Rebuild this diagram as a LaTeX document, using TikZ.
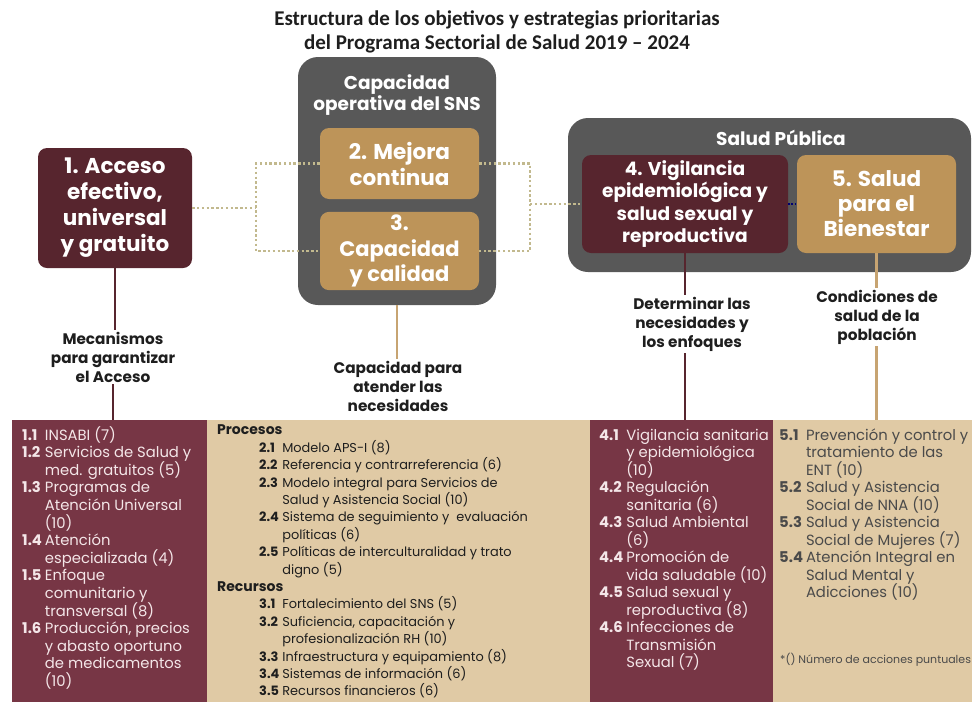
\documentclass[tikz,border=0pt]{standalone}
\usepackage{fontspec}
\usepackage{array}
\setmainfont{Poppins}
\newfontfamily\titlefont{Carlito}
\definecolor{SaludWine}{HTML}{57252E}
\definecolor{SaludRose}{HTML}{773645}
\definecolor{SaludGold}{HTML}{BD9459}
\definecolor{SaludSand}{HTML}{E0CAA5}
\definecolor{SaludGray}{HTML}{585858}
\definecolor{SaludDots}{HTML}{C2B98E}
\definecolor{SaludInk}{HTML}{1E1E1E}
\definecolor{SaludText}{HTML}{4A4A4A}
\definecolor{SaludPale}{HTML}{F4E6E8}
\usetikzlibrary{positioning}

% cells that never stretch their row
\newcolumntype{T}{>{\setbox0=\hbox\bgroup}l<{\egroup\ht0=0pt\dp0=0pt\box0}}

\tikzset{
  group/.style={fill=SaludGray, rounded corners=20pt, inner sep=0pt},
  grouptitle/.style={text=white, font=\bfseries\fontsize{18.5}{21.5}\selectfont, align=center},
  objbox/.style={rounded corners=9pt, text=white, align=center, inner sep=3pt},
  topic/.style={text=SaludInk, font=\bfseries\fontsize{15.3}{19}\selectfont, align=center, inner sep=2pt},
  panel/.style={anchor=north west, inner sep=0pt},
  listing/.style={anchor=north west, inner sep=0pt, align=left},
  dots/.style={draw=SaludDots, line width=2.4pt, dash pattern=on 2.4pt off 2.4pt},
  wine wire/.style={draw=SaludWine, line width=2.6pt},
  gold wire/.style={draw=SaludGold!85!white, line width=2.6pt}
}
\newcommand{\objnum}[1]{\textbf{#1}}

\begin{document}
\begin{tikzpicture}[x=1pt,y=-1pt]
  \useasboundingbox (0,0) rectangle (972,702);

  % title
  \node[font=\titlefont\bfseries\fontsize{21}{24}\selectfont, align=center, text=SaludInk]
    (title) at (497,32) {Estructura de los objetivos y estrategias prioritarias\\
    del Programa Sectorial de Salud 2019 – 2024};

  % grey groups
  \node[group, minimum width=198, minimum height=248] (sns) at (397,181) {};
  \node[grouptitle] (snstitle) at (397,95) {Capacidad\\operativa del SNS};
  \node[group, minimum width=403, minimum height=154] (salud) at (769.5,195) {};
  \node[grouptitle] (saludtitle) at (781,138) {Salud Pública};

  % objectives
  \node[objbox, fill=SaludWine, minimum width=154, minimum height=120,
    font=\bfseries\fontsize{21.5}{26}\selectfont] (acceso) at (115,208)
    {1. Acceso\\efectivo,\\universal\\y gratuito};
  \node[objbox, fill=SaludGold, minimum width=159, minimum height=71,
    font=\bfseries\fontsize{21.5}{26}\selectfont] (mejora) at (399.5,163.5)
    {2. Mejora\\continua};
  \node[objbox, fill=SaludGold, minimum width=159, minimum height=78,
    font=\bfseries\fontsize{21}{25.5}\selectfont] (calidad) at (399.5,251)
    {3.\\Capacidad\\y calidad};
  \node[objbox, fill=SaludWine, minimum width=206, minimum height=98,
    font=\bfseries\fontsize{18.6}{22.5}\selectfont] (vigilancia) at (685,204)
    {4. Vigilancia\\epidemiológica y\\salud sexual y\\reproductiva};
  \node[objbox, fill=SaludGold, minimum width=159, minimum height=98,
    font=\bfseries\fontsize{21.5}{25}\selectfont] (bienestar) at (876.5,204)
    {5. Salud\\para el\\Bienestar};

  % dotted links
  \coordinate (jl) at (256,208);
  \coordinate (jr) at (530,204);
  \draw[dots] (acceso.east) -- (jl);
  \draw[dots] (mejora.west) -| (jl) |- (calidad.west);
  \draw[dots] (mejora.east) -| (jr) |- (calidad.east);
  \draw[dots] (jr) -- (vigilancia.west);
  \draw[draw=blue!45!black, line width=1.6pt, dash pattern=on 1.6pt off 1.6pt]
    (vigilancia.east) -- (bienestar.west);

  % topics
  \node[topic] (mecanismos) at (113,357) {Mecanismos\\para garantizar\\el Acceso};
  \node[topic] (atender) at (398,386) {Capacidad para\\atender las\\necesidades};
  \node[topic] (enfoques) at (692,324) {Determinar las\\necesidades y\\los enfoques};
  \node[topic] (condiciones) at (877,317) {Condiciones de\\salud de la\\población};

  % panels
  \node[panel, fill=SaludRose, minimum width=195, minimum height=282] (accpanel) at (12,420) {};
  \node[panel, fill=SaludSand, minimum width=383, minimum height=282] (snspanel) at (207,420) {};
  \node[panel, fill=SaludRose, minimum width=183, minimum height=282] (vigpanel) at (590,420) {};
  \node[panel, fill=SaludSand, minimum width=199, minimum height=282] (bienpanel) at (773,420) {};

  % vertical links
  \draw[wine wire] (acceso.south) -- (acceso.south |- mecanismos.north);
  \draw[wine wire] (mecanismos.south) -- (mecanismos.south |- accpanel.north);
  \draw[gold wire] (sns.south) -- (sns.south |- atender.north);
  \draw[wine wire] (vigilancia.south) -- (vigilancia.south |- enfoques.north);
  \draw[wine wire] (vigilancia.south |- enfoques.south) -- (vigilancia.south |- vigpanel.north);
  \draw[gold wire] (bienestar.south) -- (bienestar.south |- condiciones.north);
  \draw[gold wire] (bienestar.south |- condiciones.south) -- (bienestar.south |- bienpanel.north);

  % strategy lists
  \node[listing, text=SaludPale, font=\fontsize{14.8}{17.6}\selectfont]
    (acclist) at ([xshift=10pt,yshift=-7.5pt]accpanel.north west) {%
    \begin{tabular}{@{}T@{\hspace{3pt}}T@{}}
      \objnum{1.1} & INSABI (7)\\
      \objnum{1.2} & Servicios de Salud y\\
                   & med. gratuitos (5)\\
      \objnum{1.3} & Programas de\\
                   & Atención Universal\\
                   & (10)\\
      \objnum{1.4} & Atención\\
                   & especializada (4)\\
      \objnum{1.5} & Enfoque\\
                   & comunitario y\\
                   & transversal (8)\\
      \objnum{1.6} & Producción, precios\\
                   & y abasto oportuno\\
                   & de medicamentos\\
                   & (10)
    \end{tabular}};
  \node[listing, text=SaludText, font=\fontsize{12.9}{17.4}\selectfont]
    (snslist) at ([xshift=10pt,yshift=-2.5pt]snspanel.north west) {%
    \begin{tabular}{@{}p{42pt}@{}T@{\hspace{3pt}}T@{}}
      \multicolumn{3}{@{}T}{\color{SaludInk}\bfseries\fontsize{14}{17.4}\selectfont Procesos}\\
      & \objnum{2.1} & Modelo APS-I (8)\\
      & \objnum{2.2} & Referencia y contrarreferencia (6)\\
      & \objnum{2.3} & Modelo integral para Servicios de\\
      &              & Salud y Asistencia Social (10)\\
      & \objnum{2.4} & Sistema de seguimiento y \ evaluación\\
      &              & políticas (6)\\
      & \objnum{2.5} & Políticas de interculturalidad y trato\\
      &              & digno (5)\\
      \multicolumn{3}{@{}T}{\color{SaludInk}\bfseries\fontsize{14}{17.4}\selectfont Recursos}\\
      & \objnum{3.1} & Fortalecimiento del SNS (5)\\
      & \objnum{3.2} & Suficiencia, capacitación y\\
      &              & profesionalización RH (10)\\
      & \objnum{3.3} & Infraestructura y equipamiento (8)\\
      & \objnum{3.4} & Sistemas de información (6)\\
      & \objnum{3.5} & Recursos financieros (6)
    \end{tabular}};
  \node[listing, text=SaludPale, font=\fontsize{14.8}{17.5}\selectfont]
    (viglist) at ([xshift=9pt,yshift=-8pt]vigpanel.north west) {%
    \begin{tabular}{@{}T@{\hspace{3pt}}T@{}}
      \objnum{4.1} & Vigilancia sanitaria\\
                   & y epidemiológica\\
                   & (10)\\
      \objnum{4.2} & Regulación\\
                   & sanitaria (6)\\
      \objnum{4.3} & Salud Ambiental\\
                   & (6)\\
      \objnum{4.4} & Promoción de\\
                   & vida saludable (10)\\
      \objnum{4.5} & Salud sexual y\\
                   & reproductiva (8)\\
      \objnum{4.6} & Infecciones de\\
                   & Transmisión\\
                   & Sexual (7)
    \end{tabular}};
  \node[listing, text=SaludText, font=\fontsize{14.8}{17.5}\selectfont]
    (bienlist) at ([xshift=6pt,yshift=-8pt]bienpanel.north west) {%
    \begin{tabular}{@{}T@{\hspace{3pt}}T@{}}
      \objnum{5.1} & Prevención y control y\\
                   & tratamiento de las\\
                   & ENT (10)\\
      \objnum{5.2} & Salud y Asistencia\\
                   & Social de NNA (10)\\
      \objnum{5.3} & Salud y Asistencia\\
                   & Social de Mujeres (7)\\
      \objnum{5.4} & Atención Integral en\\
                   & Salud Mental y\\
                   & Adicciones (10)
    \end{tabular}};
  \node[text=SaludText, font=\fontsize{11}{12}\selectfont, anchor=west, inner sep=0pt]
    (nota) at (780,660) {*() Número de acciones puntuales};
\end{tikzpicture}
\end{document}
